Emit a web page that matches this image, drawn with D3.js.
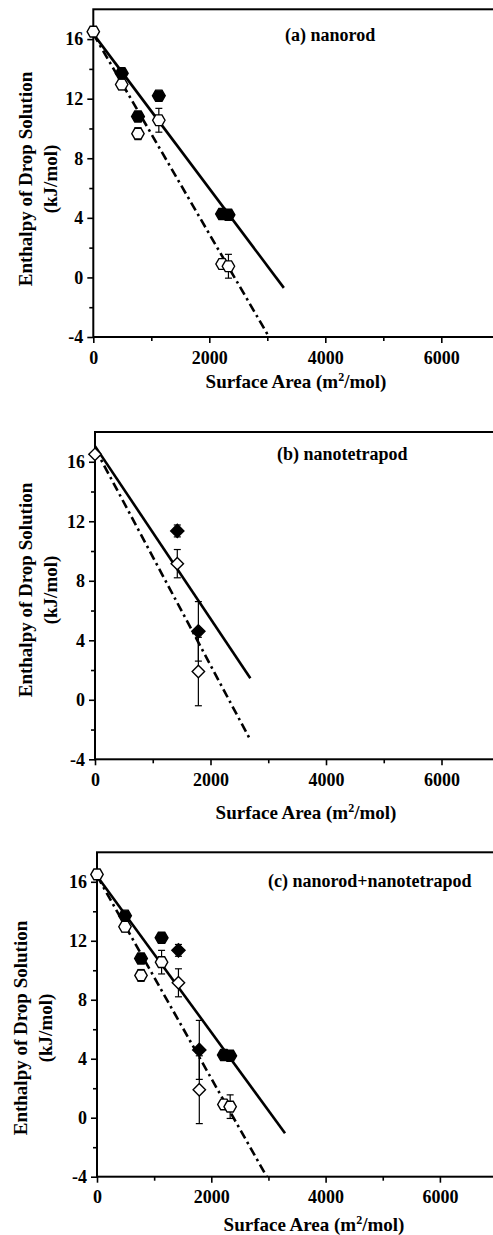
<!DOCTYPE html>
<html>
<head>
<meta charset="utf-8">
<script src="https://cdn.jsdelivr.net/npm/d3@7"></script>
<style>
  html, body { margin: 0; padding: 0; background: #fff; }
  svg { display: block; }
  svg text { font-family: "Times New Roman", "Liberation Serif", Tinos, Times, "DejaVu Serif", serif !important; font-weight: bold; fill: #000; }
</style>
</head>
<body>
<div id="chart"></div>
<script>
// bulk reference point (surface area 0)
const bulkArea = 0;
const bulkValue = 16.5;

// nanorod samples
const rodArea = [490, 770, 1130, 2220, 2330];
const rodFilled = [13.7, 10.8, 12.2, 4.25, 4.2];
const rodFilledErr = [0.25, 0.25, 0.25, 0.25, 0.25];
const rodOpen = [12.95, 9.65, 10.55, 0.9, 0.75];
const rodOpenErr = [0.35, 0.4, 0.8, 0.3, 0.8];

// nanotetrapod samples
const podArea = [1425, 1790];
const podFilled = [11.35, 4.6];
const podFilledErr = [0.4, 2.0];
const podOpen = [9.15, 1.9];
const podOpenErr = [0.95, 2.3];

// fitted lines [[x0, y0], [x1, y1]]
const fitSolidA = [[0, 16.35], [3285, -0.7]];
const fitDashA = [[0, 16.35], [3030, -4]];
const fitSolidB = [[0, 17.05], [2690, 1.45]];
const fitDashB = [[0, 16.9], [2690, -2.7]];
const fitSolidC = [[0, 16.4], [3290, -1.05]];
const fitDashC = [[0, 16.4], [2970, -4]];

const xTicks = [0, 2000, 4000, 6000];
const xMinor = [1000, 3000, 5000];
const yTicks = [-4, 0, 4, 8, 12, 16];
const yMinor = [-2, 2, 6, 10, 14];
const yLabel1 = 'Enthalpy of Drop Solution';
const yLabel2 = '(kJ/mol)';

const width = 493, height = 1235;
const serif = '"Times New Roman", "Liberation Serif", Tinos, Times, "DejaVu Serif", serif';

const svg = d3.select('#chart').append('svg')
    .attr('width', width)
    .attr('height', height)
    .attr('font-family', serif);

function zip(xs, ys, es) {
    return xs.map((x, i) => ({x: x, y: ys[i], e: es ? es[i] : 0}));
}

const rodFilledPts = zip(rodArea, rodFilled, rodFilledErr);
const rodOpenPts = [{x: bulkArea, y: bulkValue, e: 0}].concat(zip(rodArea, rodOpen, rodOpenErr));
const podFilledPts = zip(podArea, podFilled, podFilledErr);
const podOpenPts = [{x: bulkArea, y: bulkValue, e: 0}].concat(zip(podArea, podOpen, podOpenErr));

const panels = [
    {left: 93.3, top: 9.3, bottom: 337, px2000: 116, title: '(a) nanorod', titleX: 285, titleY: 41,
     xLabX: 296, xLabOff: 51, yLabX: 32, yLabY: 179,
     solid: fitSolidA, dash: fitDashA, hexFilled: rodFilledPts, hexOpen: rodOpenPts, diaFilled: [], diaOpen: []},
    {left: 95, top: 432, bottom: 759.3, px2000: 115.5, title: '(b) nanotetrapod', titleX: 277, titleY: 460,
     xLabX: 306, xLabOff: 60, yLabX: 32, yLabY: 590,
     solid: fitSolidB, dash: fitDashB, hexFilled: [], hexOpen: [], diaFilled: podFilledPts, diaOpen: podOpenPts},
    {left: 97, top: 852.3, bottom: 1176.7, px2000: 114.3, title: '(c) nanorod+nanotetrapod', titleX: 268, titleY: 887,
     xLabX: 314, xLabOff: 54, yLabX: 27, yLabY: 1028,
     solid: fitSolidC, dash: fitDashC, hexFilled: rodFilledPts, hexOpen: rodOpenPts, diaFilled: podFilledPts, diaOpen: podOpenPts.slice(1)}
];

function hexPath(r) {
    const pts = d3.range(6).map(i => [r * Math.cos(i * Math.PI / 3), r * Math.sin(i * Math.PI / 3)]);
    return 'M' + pts.join('L') + 'Z';
}
function diamondPath(r) {
    return `M0,${-r}L${r},0L0,${r}L${-r},0Z`;
}

panels.forEach(p => {
    const x = d3.scaleLinear().domain([0, 7000]).range([p.left, p.left + 3.5 * p.px2000]);
    const y = d3.scaleLinear().domain([-4, 18]).range([p.bottom, p.top]);
    const g = svg.append('g');

    // frame (right side runs off the picture)
    g.append('rect')
        .attr('x', x(0)).attr('y', y(18))
        .attr('width', x(7000) - x(0)).attr('height', y(-4) - y(18))
        .attr('fill', 'none').attr('stroke', '#000').attr('stroke-width', 2);

    // axes
    const xAxis = g.append('g').attr('transform', `translate(0,${y(-4)})`)
        .call(d3.axisBottom(x).tickValues(xTicks).tickSize(6).tickPadding(8).tickFormat(d => String(d)));
    g.append('g').attr('transform', `translate(0,${y(-4)})`)
        .call(d3.axisBottom(x).tickValues(xMinor).tickSize(4).tickFormat(''));
    const yAxis = g.append('g').attr('transform', `translate(${x(0)},0)`)
        .call(d3.axisLeft(y).tickValues(yTicks).tickSize(6).tickPadding(4).tickFormat(d => String(d)));
    g.append('g').attr('transform', `translate(${x(0)},0)`)
        .call(d3.axisLeft(y).tickValues(yMinor).tickSize(4).tickFormat(''));
    g.selectAll('.domain').remove();
    g.selectAll('.tick line').attr('stroke', '#000').attr('stroke-width', 1.6);
    g.selectAll('g').attr('font-family', serif).attr('font-size', 18);
    g.selectAll('.tick text').attr('font-weight', 'bold');
    xAxis.selectAll('.tick text').attr('dy', '0.71em');

    // axis labels
    const xl = g.append('text').attr('x', p.xLabX).attr('y', y(-4) + p.xLabOff)
        .attr('text-anchor', 'middle').attr('font-size', 19);
    xl.append('tspan').text('Surface Area (m');
    xl.append('tspan').attr('dy', -7).attr('font-size', 12).text('2');
    xl.append('tspan').attr('dy', 7).text('/mol)');

    const yl = g.append('text').attr('transform', `translate(${p.yLabX},${p.yLabY}) rotate(-90)`)
        .attr('text-anchor', 'middle').attr('font-size', 19);
    yl.append('tspan').attr('x', 0).attr('y', 0).text(yLabel1);
    yl.append('tspan').attr('x', 0).attr('y', 25).text(yLabel2);

    // title
    g.append('text').attr('x', p.titleX).attr('y', p.titleY).attr('font-size', 18).text(p.title);

    // fitted lines
    const line = d3.line().x(d => x(d[0])).y(d => y(d[1]));
    g.append('path').attr('d', line(p.solid)).attr('fill', 'none')
        .attr('stroke', '#000').attr('stroke-width', 2.6);
    g.append('path').attr('d', line(p.dash)).attr('fill', 'none')
        .attr('stroke', '#000').attr('stroke-width', 2.6).attr('stroke-dasharray', '9,4,2.5,4');

    // error bars
    const allPts = p.hexFilled.concat(p.hexOpen, p.diaFilled, p.diaOpen).filter(d => d.e > 0);
    const eb = g.append('g').selectAll('g').data(allPts).join('g');
    eb.append('line').attr('x1', d => x(d.x)).attr('x2', d => x(d.x))
        .attr('y1', d => y(d.y + d.e)).attr('y2', d => y(d.y - d.e))
        .attr('stroke', '#000').attr('stroke-width', 1.2);
    eb.append('line').attr('x1', d => x(d.x) - 3.5).attr('x2', d => x(d.x) + 3.5)
        .attr('y1', d => y(d.y + d.e)).attr('y2', d => y(d.y + d.e))
        .attr('stroke', '#000').attr('stroke-width', 1.2);
    eb.append('line').attr('x1', d => x(d.x) - 3.5).attr('x2', d => x(d.x) + 3.5)
        .attr('y1', d => y(d.y - d.e)).attr('y2', d => y(d.y - d.e))
        .attr('stroke', '#000').attr('stroke-width', 1.2);

    // symbols
    function marks(data, path, fill) {
        g.append('g').selectAll('path').data(data).join('path')
            .attr('transform', d => `translate(${x(d.x)},${y(d.y)})`)
            .attr('d', path)
            .attr('fill', fill).attr('stroke', '#000').attr('stroke-width', 1.4);
    }
    marks(p.hexOpen, hexPath(6.2), '#fff');
    marks(p.hexFilled, hexPath(6.4), '#000');
    marks(p.diaOpen, diamondPath(6.2), '#fff');
    marks(p.diaFilled, diamondPath(6.6), '#000');
});
</script>
</body>
</html>
